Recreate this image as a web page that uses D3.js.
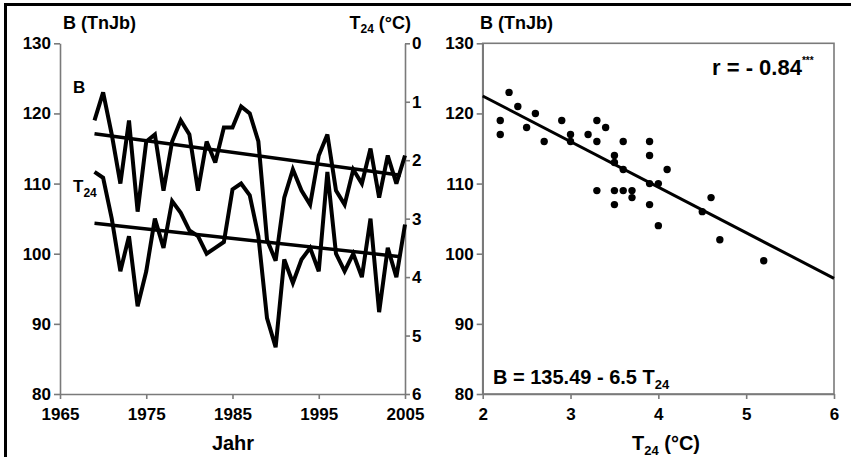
<!DOCTYPE html>
<html><head><meta charset="utf-8">
<script src="https://cdn.jsdelivr.net/npm/d3@7"></script>
<style>
body{margin:0;background:#fff;}
text{font-family:"Liberation Sans",Arial,sans-serif;font-weight:bold;fill:#000;}
</style></head>
<body><svg id="c" width="851" height="457"></svg>
<script>
// ---- data ----
const years = d3.range(1969, 2006);
const bValues = [119,123,117,110,119,106,116,117,109,116,119,117,109,116,113,118,118,121,120,116,102,99,108,112,109,107,114,117,109,107,112,110,115,108,114,110,114];
const tValues = [2.2,2.3,3.0,3.9,3.3,4.5,3.9,3.0,3.5,2.7,2.9,3.2,3.3,3.6,3.5,3.4,2.5,2.4,2.6,3.3,4.7,5.2,3.7,4.1,3.7,3.5,3.9,2.2,3.6,3.9,3.6,4.0,3.0,4.6,3.5,4.0,3.1];
const trendYears = [1969, 2004.5];
const bTrend = [117.1, 111.2];
const tTrend = [3.08, 3.65];
const scatterT = [2.2,2.2,2.3,2.4,2.5,2.6,2.7,2.9,3.0,3.0,3.2,3.3,3.3,3.4,3.3,3.5,3.5,3.6,3.6,3.5,3.6,3.5,3.7,3.7,3.9,3.9,3.9,3.9,4.0,4.1,4.0,4.5,4.6,4.7,5.2];
const scatterB = [119,117,123,121,118,120,116,119,117,116,117,119,116,118,109,114,113,116,112,109,109,107,109,108,116,114,110,107,110,112,104,106,108,102,99];
const regression = [135.49, -6.5]; // intercept, slope
const yearTicks = [1965,1975,1985,1995,2005];
const bTicks = [80,90,100,110,120,130];
const tTicks = [0,1,2,3,4,5,6];
const scatterXTicks = [2,3,4,5,6];

// ---- layout ----
const svg = d3.select("#c");
const gray = "#7a7a7a";
const yTop = 43.3, yBot = 394;
const fmt = d3.format("d");

// outer frame
svg.append("line").attr("x1",4).attr("x2",851).attr("y1",4.5).attr("y2",4.5).attr("stroke","#000").attr("stroke-width",3);
svg.append("line").attr("x1",5.5).attr("x2",5.5).attr("y1",3).attr("y2",457).attr("stroke","#000").attr("stroke-width",3);

// ===== left panel =====
const xL = d3.scaleLinear().domain([1965,2005]).range([60,405]);
const yB = d3.scaleLinear().domain([80,130]).range([yBot,yTop]);
const yT = d3.scaleLinear().domain([0,6]).range([yTop,yBot]);

function styleAxis(g, fs){
  g.selectAll(".domain").attr("stroke",gray).attr("stroke-width",1.6);
  g.selectAll(".tick line").attr("stroke",gray).attr("stroke-width",1.6);
  g.selectAll(".tick text").attr("font-size",fs).attr("font-family","Liberation Sans, Arial, sans-serif").attr("font-weight","bold").attr("fill","#000");
}

const gL = svg.append("g");
gL.append("g").attr("transform",`translate(60,0)`)
  .call(d3.axisLeft(yB).tickValues(bTicks).tickFormat(fmt).tickSize(6).tickPadding(3).tickSizeOuter(0))
  .call(g=>styleAxis(g,17));
gL.append("g").attr("transform",`translate(405,0)`)
  .call(d3.axisRight(yT).tickValues(tTicks).tickFormat(fmt).tickSize(5).tickPadding(2).tickSizeOuter(0))
  .call(g=>styleAxis(g,17));
gL.append("g").attr("transform",`translate(0,${yBot})`)
  .call(d3.axisBottom(xL).tickValues(yearTicks).tickFormat(fmt).tickSize(5).tickPadding(9).tickSizeOuter(0))
  .call(g=>styleAxis(g,17));

const lineB = d3.line().x((d,i)=>xL(years[i])).y(d=>yB(d));
const lineT = d3.line().x((d,i)=>xL(years[i])).y(d=>yT(d));
gL.append("path").datum(bValues).attr("d",lineB).attr("fill","none").attr("stroke","#000").attr("stroke-width",4).attr("stroke-linejoin","miter").attr("stroke-miterlimit",3);
gL.append("path").datum(tValues).attr("d",lineT).attr("fill","none").attr("stroke","#000").attr("stroke-width",4).attr("stroke-linejoin","miter").attr("stroke-miterlimit",3);
gL.append("line").attr("x1",xL(trendYears[0])).attr("x2",xL(trendYears[1])).attr("y1",yB(bTrend[0])).attr("y2",yB(bTrend[1])).attr("stroke","#000").attr("stroke-width",3.5);
gL.append("line").attr("x1",xL(trendYears[0])).attr("x2",xL(trendYears[1])).attr("y1",yT(tTrend[0])).attr("y2",yT(tTrend[1])).attr("stroke","#000").attr("stroke-width",3.5);

gL.append("text").attr("x",63).attr("y",29).attr("font-size",18).text("B (TnJb)");
const tl = gL.append("text").attr("x",411).attr("y",29).attr("font-size",18).attr("text-anchor","end");
tl.append("tspan").text("T");
tl.append("tspan").attr("font-size",12).attr("dy",4).text("24");
tl.append("tspan").attr("dy",-4).text(" (°C)");
gL.append("text").attr("x",73).attr("y",93).attr("font-size",17).text("B");
const t24 = gL.append("text").attr("x",73).attr("y",192).attr("font-size",17);
t24.append("tspan").text("T");
t24.append("tspan").attr("font-size",12).attr("dy",5).text("24");
gL.append("text").attr("x",233).attr("y",450).attr("font-size",20).attr("text-anchor","middle").text("Jahr");

// ===== right panel =====
const xR = d3.scaleLinear().domain([2,6]).range([482.7,834]);
const gR = svg.append("g");
gR.append("rect").attr("x",482.7).attr("y",yTop).attr("width",834-482.7).attr("height",yBot-yTop).attr("fill","none").attr("stroke",gray).attr("stroke-width",1.6);
gR.append("g").attr("transform",`translate(482.7,0)`)
  .call(d3.axisLeft(yB).tickValues(bTicks).tickFormat(fmt).tickSize(6).tickPadding(3).tickSizeOuter(0))
  .call(g=>styleAxis(g,17));
gR.append("g").attr("transform",`translate(0,${yBot})`)
  .call(d3.axisBottom(xR).tickValues(scatterXTicks).tickFormat(fmt).tickSize(5).tickPadding(9).tickSizeOuter(0))
  .call(g=>styleAxis(g,17));

gR.append("line").attr("x1",xR(2)).attr("x2",xR(6))
  .attr("y1",yB(regression[0]+regression[1]*2)).attr("y2",yB(regression[0]+regression[1]*6))
  .attr("stroke","#000").attr("stroke-width",3);
gR.selectAll("circle.pt").data(scatterT).enter().append("circle").attr("class","pt")
  .attr("cx",d=>xR(d)).attr("cy",(d,i)=>yB(scatterB[i])).attr("r",3.7).attr("fill","#000");

gR.append("text").attr("x",480).attr("y",29).attr("font-size",18).text("B (TnJb)");
const rt = gR.append("text").attr("x",712).attr("y",75).attr("font-size",22);
rt.append("tspan").text("r = - 0.84");
rt.append("tspan").attr("font-size",10).attr("dy",-11).text("***");
const eq = gR.append("text").attr("x",493).attr("y",384).attr("font-size",20);
eq.append("tspan").text("B = 135.49 - 6.5 T");
eq.append("tspan").attr("font-size",13).attr("dy",5).text("24");
const xt = gR.append("text").attr("x",666).attr("y",450).attr("font-size",20).attr("text-anchor","middle");
xt.append("tspan").text("T");
xt.append("tspan").attr("font-size",13).attr("dy",5).text("24");
xt.append("tspan").attr("dy",-5).text(" (°C)");
</script></body></html>
